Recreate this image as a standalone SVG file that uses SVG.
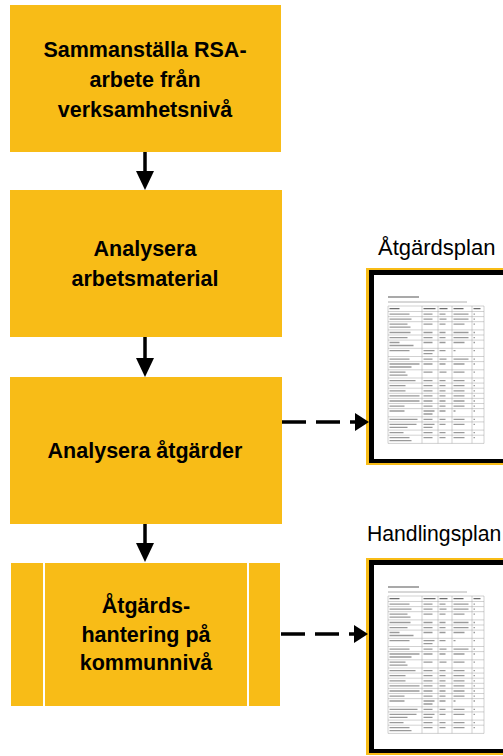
<svg xmlns="http://www.w3.org/2000/svg" xmlns:xlink="http://www.w3.org/1999/xlink" width="503" height="756" viewBox="0 0 503 756">
  <style>
    .step { fill: #F8BC17; }
    .divider { stroke: #ffffff; stroke-width: 2; }
    .step-text { font-family: "Liberation Sans", Arial, sans-serif; font-weight: bold; font-size: 21.5px; fill: #000000; text-anchor: middle; }
    .doc-label { font-family: "Liberation Sans", Arial, sans-serif; font-size: 22px; fill: #000000; }
    .flow { stroke: #000000; stroke-width: 3.5; fill: none; }
    .dashed { stroke-dasharray: 24 10; }
    .grid { stroke: #a3a3a3; stroke-width: 0.5; fill: none; }
    .cell { stroke: #9a9a9a; stroke-width: 1.3; fill: none; }
    .cell-head { stroke: #6e6e6e; stroke-width: 1.3; fill: none; }
  </style>
  <defs>
    <marker id="head-solid" viewBox="0 0 19 18" refX="1" refY="9" markerWidth="19" markerHeight="18" markerUnits="userSpaceOnUse" orient="auto">
      <path d="M0,0 L19,9 L0,18 Z" fill="#000000"/>
    </marker>
    <marker id="head-dash" viewBox="0 0 14 18" refX="1" refY="9" markerWidth="14" markerHeight="18" markerUnits="userSpaceOnUse" orient="auto">
      <path d="M0,0 L14,9 L0,18 Z" fill="#000000"/>
    </marker>

    <!-- page thumbnail: framed sheet holding a small table -->
    <g id="sheet">
      <rect x="0" y="0" width="160" height="197" fill="#F8BC17"/>
      <rect x="3" y="2" width="157" height="193" fill="#000000"/>
      <rect x="8" y="7" width="152" height="184" fill="#ffffff"/>
      <!-- heading and caption lines -->
      <path d="M22 29h31" stroke="#7a7a7a" stroke-width="1.3"/>
      <path d="M22 34h79" stroke="#b0b0b0" stroke-width="1"/>
      <!-- table grid -->
      <path class="grid" d="M22 38h96M22 43.5h96M22 48.6h96M22 53.7h96M22 61.9h96M22 67h96M22 72.1h96M22 80.3h96M22 88.5h96M22 93.6h96M22 101.8h96M22 110h96M22 115.1h96M22 120.2h96M22 125.3h96M22 130.4h96M22 135.5h96M22 140.6h96M22 148.8h96M22 153.9h96M22 162.1h96M22 167.2h96M22 175.4h96M22 38v137.4M56 38v137.4M72 38v137.4M86 38v137.4M106 38v137.4M118 38v137.4"/>
      <!-- header cells -->
      <path class="cell-head" d="M23.5 40.7h10M57.5 40.7h12M73.5 40.7h8M87.5 40.7h10M107.5 40.7h7"/>
      <!-- body cells -->
      <path class="cell" d="
        M23.5 46.1h20M57.5 46.1h9M73.5 46.1h6M87.5 46.1h15M107.5 46.1h1.5
        M23.5 51.2h22M57.5 51.2h9M73.5 51.2h7M87.5 51.2h15M107.5 51.2h1.5
        M23.5 56.1h18M23.5 59.1h21M57.5 56.1h9M73.5 56.1h6M87.5 56.1h11M107.5 56.1h1.5
        M23.5 64.5h21M57.5 64.5h9M73.5 64.5h6M87.5 64.5h15M107.5 64.5h1.5
        M23.5 69.6h18M57.5 69.6h9M73.5 69.6h6M87.5 69.6h15M107.5 69.6h1.5
        M23.5 74.5h10M23.5 77.5h24M57.5 74.5h9M73.5 74.5h6M87.5 74.5h11M107.5 74.5h1.5
        M23.5 82.7h20M57.5 82.7h11M57.5 85.7h9M73.5 82.7h6M87.5 82.7h2M107.5 82.7h1.5
        M23.5 91.1h20M57.5 91.1h9M73.5 91.1h7M87.5 91.1h15M107.5 91.1h1.5
        M23.5 96h30M23.5 99h22M57.5 96h9M73.5 96h6M87.5 96h11M107.5 96h1.5
        M23.5 104.2h16M23.5 107.2h18M57.5 104.2h9M73.5 104.2h7M87.5 104.2h11M107.5 104.2h1.5
        M23.5 112.6h26M57.5 112.6h9M73.5 112.6h6M87.5 112.6h11M107.5 112.6h1.5
        M23.5 117.7h16M57.5 117.7h9M73.5 117.7h6M87.5 117.7h11M107.5 117.7h1.5
        M23.5 122.8h16M57.5 122.8h9M73.5 122.8h6M87.5 122.8h11M107.5 122.8h1.5
        M23.5 127.9h30M57.5 127.9h9M73.5 127.9h6M87.5 127.9h11M107.5 127.9h1.5
        M23.5 133h30M57.5 133h9M73.5 133h6M87.5 133h11M107.5 133h1.5
        M23.5 138.1h15M57.5 138.1h9M73.5 138.1h6M87.5 138.1h11M107.5 138.1h1.5
        M23.5 143h15M57.5 143h11M57.5 146h9M73.5 143h6M87.5 143h2M107.5 143h1.5
        M23.5 151.4h28M57.5 151.4h9M73.5 151.4h6M87.5 151.4h11M107.5 151.4h1.5
        M23.5 156.3h27M23.5 159.3h18M57.5 156.3h11M57.5 159.3h9M73.5 156.3h6M87.5 156.3h11M107.5 156.3h1.5
        M23.5 164.7h14M57.5 164.7h9M73.5 164.7h6M87.5 164.7h11M107.5 164.7h1.5
        M23.5 169.6h20M23.5 172.6h22M57.5 169.6h9M73.5 169.6h6M87.5 169.6h11M107.5 169.6h1.5"/>
    </g>
  </defs>

  <!-- process steps -->
  <g id="step-sammanstalla">
    <rect class="step" x="10" y="5" width="271" height="147"/>
    <text class="step-text" x="145" y="57">Sammanställa RSA-</text>
    <text class="step-text" x="145" y="87">arbete från</text>
    <text class="step-text" x="145" y="117">verksamhetsnivå</text>
  </g>

  <g id="step-analysera-material">
    <rect class="step" x="10" y="190" width="272" height="147"/>
    <text class="step-text" x="145" y="256">Analysera</text>
    <text class="step-text" x="145" y="286">arbetsmaterial</text>
  </g>

  <g id="step-analysera-atgarder">
    <rect class="step" x="10" y="377" width="272" height="147"/>
    <text class="step-text" x="145" y="458">Analysera åtgärder</text>
  </g>

  <g id="step-atgardshantering">
    <rect class="step" x="11" y="563" width="269" height="143"/>
    <line class="divider" x1="44" y1="563" x2="44" y2="706"/>
    <line class="divider" x1="248" y1="563" x2="248" y2="706"/>
    <text class="step-text" x="146" y="613">Åtgärds-</text>
    <text class="step-text" x="146" y="642">hantering på</text>
    <text class="step-text" x="146" y="670">kommunnivå</text>
  </g>

  <!-- output documents -->
  <g id="doc-atgardsplan">
    <text class="doc-label" x="378" y="255">Åtgärdsplan</text>
    <use xlink:href="#sheet" href="#sheet" transform="translate(366,268)"/>
  </g>

  <g id="doc-handlingsplan">
    <text class="doc-label" x="367" y="541" style="font-size:21.2px">Handlingsplan</text>
    <use xlink:href="#sheet" href="#sheet" transform="translate(366,558)"/>
  </g>

  <!-- connectors -->
  <g id="connectors">
    <line class="flow" x1="145" y1="152" x2="145" y2="172" marker-end="url(#head-solid)"/>
    <line class="flow" x1="145" y1="337" x2="145" y2="359" marker-end="url(#head-solid)"/>
    <line class="flow" x1="145" y1="524" x2="145" y2="544" marker-end="url(#head-solid)"/>
    <line class="flow dashed" x1="282" y1="422" x2="356" y2="422" marker-end="url(#head-dash)"/>
    <line class="flow dashed" x1="281" y1="634" x2="355" y2="634" marker-end="url(#head-dash)"/>
  </g>
</svg>
